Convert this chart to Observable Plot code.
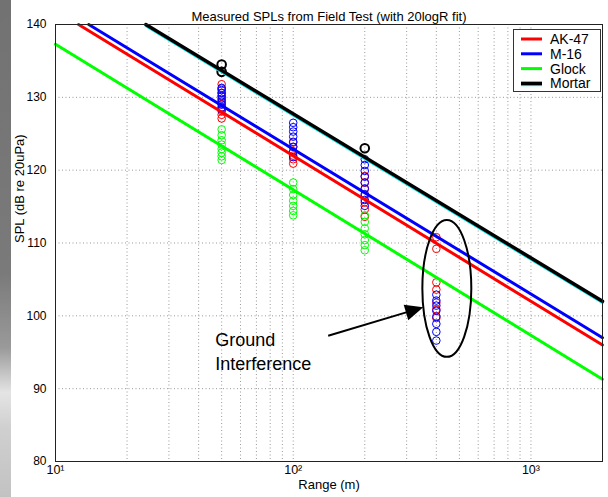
<!DOCTYPE html>
<html><head><meta charset="utf-8">
<script src="https://cdn.jsdelivr.net/npm/d3@7"></script>
<script src="https://cdn.jsdelivr.net/npm/@observablehq/plot@0.6"></script>
<style>
body{margin:0;background:#fff;font-family:"Liberation Sans",Arial,sans-serif;}
#wrap{position:relative;width:608px;height:497px;overflow:hidden;background:#fff;}
#bar{position:absolute;left:0;top:0;width:11px;height:497px;background:linear-gradient(to bottom,#727272 0%,#7a7a7a 55%,#9a9a9a 70%,#e4e4e4 79%,#d0d0d0 86%,#c2c2c2 100%);}
#chart{position:absolute;left:0;top:0;}
#legend{position:absolute;left:513px;top:29px;}
</style></head><body>
<div id="wrap"><div id="bar"></div><div id="chart"></div><div id="legend"></div></div>
<script>
// ---- data ----
const seriesNames = ["AK-47", "M-16", "Glock", "Mortar"];
const seriesColors = ["#ff0000", "#0000ff", "#00ff00", "#000000"];
// fit lines: where each line enters the plot (left/top edge) and its value at 2000 m
const fitStartRange = [12.5, 13.8, 10, 24.0];
const fitStartSPL = [140, 140, 137.3, 140];
const fitEndRange = [2000, 2000, 2000, 2000];
const fitEndSPL = [96.0, 97.0, 91.3, 102.0];

const gunRanges = [50, 100, 200, 400];
const ak47SPL = [
  [131.8, 131.2, 130.6, 130.1, 129.6, 129.1, 128.6, 128.1, 127.6, 127.1],
  [123.8, 123.2, 122.6, 122.0, 121.5, 120.9],
  [119.2, 118.3, 117.4, 116.5, 115.6, 114.6, 113.6],
  [110.8, 109.2, 104.6, 103.6, 101.8, 100.9, 99.7]
];
const m16SPL = [
  [131.3, 131.0, 130.6, 130.2, 129.8, 129.4, 129.0, 128.6, 128.3],
  [126.5, 125.9, 125.3, 124.6, 123.9, 123.2, 122.5, 121.8],
  [121.5, 120.7, 119.9, 119.1, 118.3, 117.5, 116.7, 115.9, 115.1],
  [102.9, 102.1, 101.4, 100.7, 99.9, 98.9, 97.8, 96.6]
];
const glockSPL = [
  [125.6, 124.8, 124.1, 123.5, 122.9, 122.4, 121.9, 121.4],
  [118.3, 117.4, 116.6, 115.8, 115.1, 114.4, 113.8],
  [113.8, 112.9, 112.0, 111.2, 110.4, 109.7, 109.0],
  []
];
const mortarRanges = [50, 50, 200];
const mortarSPL = [134.5, 133.5, 123.0];

const yTicks = [80, 90, 100, 110, 120, 130, 140];
const xTicks = [10, 100, 1000];
const xTickLabels = ["10\u00b9", "10\u00b2", "10\u00b3"];
const xMinorGrid = [20,30,40,50,60,70,80,90,100,200,300,400,500,600,700,800,900,1000];
const yGrid = [90, 100, 110, 120, 130];

const titleText = "Measured SPLs from Field Test (with 20logR fit)";
const xLabel = "Range (m)";
const yLabel = "SPL (dB re 20uPa)";
const noteText = "Ground\nInterference";
const notePos = [47.0, 95.2];
const ellipseX = [351, 564];
const ellipseY = [94.3, 113.1];
const arrowFrom = [141, 97.2];
const arrowTo = [354, 101.1];

// ---- tables ----
const gunSets = [ak47SPL, m16SPL, glockSPL];
const points = [];
gunSets.forEach((set, s) => set.forEach((vals, i) => vals.forEach(v => points.push({series: seriesNames[s], range: gunRanges[i], spl: v}))));
const mortarPts = mortarRanges.map((r, i) => ({series: "Mortar", range: r, spl: mortarSPL[i]}));
const fits = [];
seriesNames.forEach((n, i) => {
  fits.push({series: n, range: fitStartRange[i], spl: fitStartSPL[i]});
  fits.push({series: n, range: fitEndRange[i], spl: fitEndSPL[i]});
});
const colorOf = Object.fromEntries(seriesNames.map((n, i) => [n, seriesColors[i]]));

const ellipseMark = (index, {x, y}) => {
  const x0 = x(ellipseX[0]), x1 = x(ellipseX[1]);
  const y0 = y(ellipseY[0]), y1 = y(ellipseY[1]);
  const g = d3.create("svg:g");
  g.append("ellipse").attr("cx", (x0 + x1) / 2).attr("cy", (y0 + y1) / 2)
    .attr("rx", Math.abs(x1 - x0) / 2).attr("ry", Math.abs(y1 - y0) / 2)
    .attr("fill", "none").attr("stroke", "black").attr("stroke-width", 2);
  return g.node();
};
const arrowMark = (index, {x, y}) => {
  const sx = x(arrowFrom[0]), sy = y(arrowFrom[1]);
  const tx = x(arrowTo[0]), ty = y(arrowTo[1]);
  const len = Math.hypot(tx - sx, ty - sy);
  const ux = (tx - sx) / len, uy = (ty - sy) / len;
  const L = 18, W = 8;
  const bx = tx - ux * L, by = ty - uy * L;
  const g = d3.create("svg:g");
  g.append("line").attr("x1", sx).attr("y1", sy).attr("x2", bx + ux * 2).attr("y2", by + uy * 2)
    .attr("stroke", "black").attr("stroke-width", 2);
  g.append("path").attr("d", `M${tx},${ty}L${bx - uy * W},${by + ux * W}L${bx + uy * W},${by - ux * W}Z`)
    .attr("fill", "black");
  return g.node();
};

const chart = Plot.plot({
  width: 608, height: 497,
  marginLeft: 55, marginRight: 6, marginTop: 24, marginBottom: 36,
  style: {fontFamily: "'Liberation Sans', Arial, sans-serif", fontSize: "12.5px", background: "transparent", color: "black"},
  x: {type: "log", domain: [10, 2000]},
  y: {domain: [80, 140]},
  marks: [
    Plot.ruleY(yGrid, {stroke: "#999", strokeDasharray: "1,2.5", strokeWidth: 1}),
    Plot.ruleX(xMinorGrid, {stroke: "#999", strokeDasharray: "1,2.5", strokeWidth: 1}),
    Plot.axisY({ticks: yTicks, tickSize: 0, tickPadding: 9, label: null, fontSize: 12}),
    Plot.axisX({ticks: xTicks, tickSize: 0, tickPadding: 4, label: null, fontSize: 12.5,
      tickFormat: d => xTickLabels[xTicks.indexOf(d)]}),
    Plot.dot(points, {x: "range", y: "spl", r: 3.8, stroke: d => colorOf[d.series], strokeWidth: 1, fill: "none"}),
    Plot.dot(mortarPts, {x: "range", y: "spl", r: 4.3, stroke: "black", strokeWidth: 2, fill: "none"}),
    Plot.line(fits.filter(d => d.series === "Mortar"), {x: "range", y: "spl", stroke: "#00e5e5", strokeWidth: 2.5, dy: 1.5}),
    ...seriesNames.map(n => Plot.line(fits.filter(d => d.series === n), {x: "range", y: "spl", stroke: colorOf[n], strokeWidth: n === "Mortar" ? 3.5 : 3})),
    Plot.frame({stroke: "#222", strokeWidth: 1}),
    Plot.text([titleText], {text: d => d, frameAnchor: "top", dy: -13, fontSize: 13}),
    Plot.text([xLabel], {text: d => d, frameAnchor: "bottom", dy: 27, fontSize: 13}),
    Plot.text([yLabel], {text: d => d, frameAnchor: "left", dx: -36, rotate: -90, fontSize: 13}),
    ellipseMark,
    arrowMark,
    Plot.text([noteText], {x: () => notePos[0], y: () => notePos[1], text: d => d, textAnchor: "start", lineAnchor: "middle", fontSize: 18, lineHeight: 1.33})
  ]
});
document.getElementById("chart").appendChild(chart);

// legend
const lg = d3.select("#legend").append("svg").attr("width", 89).attr("height", 64)
  .style("font-family", "'Liberation Sans', Arial, sans-serif").style("font-size", "14px");
lg.append("rect").attr("x", 0.5).attr("y", 0.5).attr("width", 87).attr("height", 62).attr("fill", "white").attr("stroke", "#333");
seriesNames.forEach((n, i) => {
  const cy = 10 + i * 14.8;
  if (n === "Mortar") lg.append("line").attr("x1", 8).attr("x2", 29).attr("y1", cy + 1.5).attr("y2", cy + 1.5).attr("stroke", "#00e5e5").attr("stroke-width", 2.5);
  lg.append("line").attr("x1", 8).attr("x2", 29).attr("y1", cy).attr("y2", cy).attr("stroke", seriesColors[i]).attr("stroke-width", n === "Mortar" ? 3.5 : 3);
  lg.append("text").attr("x", 37).attr("y", cy).attr("dy", "0.35em").text(n);
});
</script>
</body></html>
